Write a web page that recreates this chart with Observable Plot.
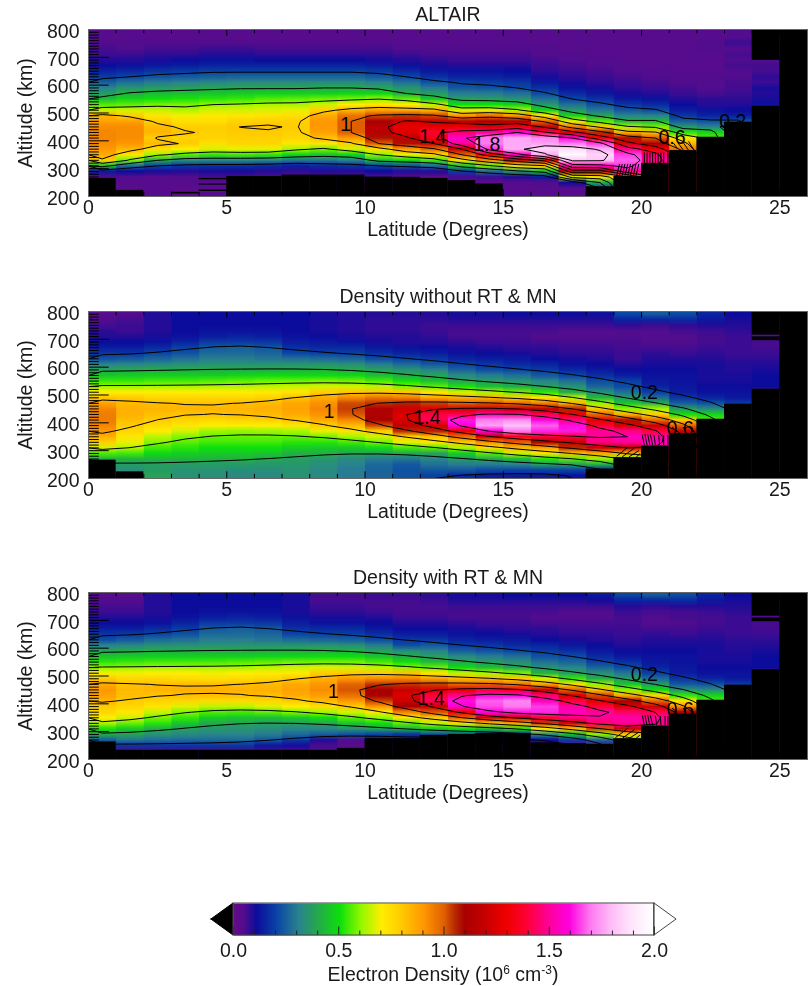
<!DOCTYPE html>
<html><head><meta charset="utf-8">
<script src="https://cdn.jsdelivr.net/npm/d3@7"></script>
<script src="https://cdn.jsdelivr.net/npm/@observablehq/plot@0.6"></script>
<style>
html,body{margin:0;padding:0;background:#fff}
#root{position:relative;width:808px;height:986px;overflow:hidden;font-family:"Liberation Sans",Arial,sans-serif;color:#1a1a1a;filter:blur(0.35px)}
#root>div{position:absolute;left:0}
#root svg{display:block;background:transparent;font-family:"Liberation Sans",Arial,sans-serif}
#cbLabel{top:963px;width:808px;left:0;text-align:center;font-size:19.5px;line-height:22px}
#cbLabel span{position:relative;left:39px}
#cbLabel sup{font-size:12px;line-height:0}
</style></head><body><div id="root"></div>
<script>
// electron density, units of 10^4 cm^-3: one list per latitude bin (0-1, 1-2 ... 25-26),
// each list holds altitudes 210, 230 ... 790 km
const altitudes = [210,230,250,270,290,310,330,350,370,390,410,430,450,470,490,510,530,550,570,590,610,630,650,670,690,710,730,750,770,790];
const altair = [
[3,3,3,4,12,45,78,86,90,92,93,93,92,88,84,65,55,43,36,30,24,18,14,10,8,6,5,4,3,3],
[2,2,3,4,10,26,58,72,84,90,92,92,92,88,78,66,56,48,41,34,27,20,15,11,8,6,4,4,3,3],
[3,3,3,3,9,20,40,62,74,83,79,84,83,78,72,65,58,50,43,36,29,22,17,12,9,7,5,4,3,3],
[2,2,3,4,8,17,33,56,70,79,77,81,78,74,69,63,58,51,44,37,30,23,18,13,10,7,5,4,3,3],
[3,3,3,5,9,16,32,53,67,74,77,78,78,74,71,66,60,52,45,38,31,24,19,14,11,8,6,4,3,3],
[3,3,3,5,9,16,32,54,68,76,78,79,80.1,77,72,66,61,53,46,39,32,25,19,14,11,8,6,4,3,3],
[3,3,3,4,8,15,31,53,68,76,78,79,81,78,73,67,62,55,47,39,32,25,19,14,10,7,5,4,3,3],
[3,3,3,4,7,13,28,48,62,72,76,78,79,78,74,68,62,56,47,39,32,25,19,14,10,7,5,4,3,3],
[3,3,3,4,8,15,28,45,58,72,82,88,90,90,86,77,65,57,47,40,32,25,19,14,10,7,5,4,3,3],
[3,3,3,4,8,16,30,48,66,78,90,100,100,100,96,84,70,58,48,40,32,25,19,14,10,7,5,4,3,3],
[3,3,3,4,10,20,44,60,74,100,108,115,116,110,102,88,72,60,48,38,30,23,18,13,9,7,5,4,3,3],
[3,3,3,3,8,22,48,68,90,108,118,126,128,122,104,86,70,56,40,34,27,20,15,11,8,6,4,3,3,3],
[3,3,3,2,8,26,54,76,98,120,134,138,128,118,102,84,64,45,36,29,22,16,12,9,7,5,4,3,3,3],
[3,3,2,5,18,45,74,100,120,150,158,145,128,115,90,67,50,37,29,23,19,14,11,8,6,5,4,3,3,3],
[3,3,2,6,26,58,92,128,165,170,170,150,125,112,96,68,50,36,29,22,18,14,11,8,6,5,4,3,3,3],
[3,3,3,8,36,72,108,155,178,177,177,160,132,112,90,62,47,33,27,20,17,13,10,8,6,5,4,3,3,3],
[3,3,4,12,45,78,125,178,186,176,172,142,118,98,72,48,35,27,21,16,12,9,7,6,5,4,4,3,3,3],
[3,3,10,66,110,152,183,198,188,170,160,125,95,68,48,35,27,20,15,11,9,7,6,5,4,4,3,3,3,3],
[10,20,40,70,110,155,182,186,178,165,130,105,78,55,38,28,22,16,12,9,7,6,5,4,4,3,3,3,3,3],
[100,100,100,100,150,165,168,165,148,125,108,85,62,42,30,23,17,12,9,7,6,5,4,4,3,3,3,3,3,3],
[140,140,140,140,140,140,150,145,130,110,100,82,58,42,30,21,15,11,8,6,5,4,4,3,3,3,3,3,3,3],
[110,110,110,110,110,110,110,110,95,85,72,52,35,24,17,13,10,8,6,5,4,4,3,3,3,3,3,3,3,3],
[55,55,55,55,55,55,55,55,55,55,55,48,30,22,14,11,8,7,5,4,4,4,3,3,3,3,4,4,3,3],
[0,0,0,0,0,0,0,0,0,0,0,0,0,22,13,10,8,7,6,5,5,4,4,5,4,5,3,6,4,4],
[0,0,0,0,0,0,0,0,0,0,0,0,0,0,0,0,11,9,8,9,6,7,5,5,4,3,3,3,3,3],
[0,0,0,0,0,0,0,0,0,0,0,0,0,0,0,0,0,0,0,0,0,0,0,0,0,0,0,0,0,0]];
const withoutRT = [
[30,32,36,42,55,66,78,85,90,93,95,95,93,88,80,70,61,53,45,38,30,22,17,13,10,8,7,5,4,3],
[32,33,36,42,54,63,68,72,76,79,82,85,85,83,79,70,61,53,46,39,31,23,17,13,10,8,6,6,5,4],
[38,36,37,42,49,54,59,64,70,75,79,82,84,82,76,70,62,54,47,40,32,25,20,15,11,9,8,8,8,8],
[34,34,36,42,47,52,56,59,66,72,77,81,84,81,76,70,62,54,47,40,33,27,22,19,14,11,10,10,10,10],
[33,34,36,41,46,50,54,57,61,70,76,81,84,81,76,70,63,55,47,40,34,29,26,23,18,13,11,10,10,10],
[32,33,36,41,46,50,54,57,60,70,77,82,84,82,76,70,63,56,48,40,34,29,26,24,18,14,11,10,10,10],
[32,33,35,39,45,50,54,57,61,70,78,83,85,83,77,71,64,57,49,40,34,28,25,23,17,13,11,10,10,10],
[34,34,35,37,41,47,52,57,62,72,81,86,88,87,81,72,65,57,49,41,34,27,20,16,13,11,10,10,10,10],
[32,32,33,35,41,46,52,58,68,79,86,91,93,91,86,78,66,58,49,41,34,26,19,15,12,10,9,9,9,9],
[29,29,30,32,39,46,54,62,73,83,93,101,103,102,92,80,66,57,48,40,33,25,19,15,11,9,8,8,8,8],
[25,25,26,29,38,49,58,66,79,102,110,113,112,104,96,80,64,54,44,37,29,21,16,12,9,8,7,7,7,8],
[22,22,23,28,39,54,68,78,105,118,124,125,121,106,94,80,59,50,40,34,26,19,14,11,8,8,7,7,7,8],
[19,23,27,31,38,56,71,82,106,123,143,141,125,103,86,72,56,44,38,31,23,17,13,10,8,7,6,6,7,8],
[15,23,29,36,47,62,80,98,130,160,162,142,123,100,85,66,51,38,32,25,19,14,11,9,7,5,5,6,8,9],
[13,21,29,39,56,75,92,120,160,176,170,155,124,101,83,62,44,36,29,21,17,13,10,8,6,5,5,6,8,9],
[13,20,30,43,65,84,100,135,170,182,172,150,120,98,78,57,40,34,27,20,15,12,9,7,6,5,5,6,8,10],
[12,20,36,52,72,88,110,140,163,168,160,142,116,94,72,52,37,31,23,18,14,10,8,7,5,4,5,6,8,10],
[11,20,37,56,82,105,120,140,162,161,148,130,106,84,64,40,34,27,20,15,11,9,7,6,5,4,4,6,8,10],
[10,15,40,60,87,120,147,150,150,138,126,98,80,60,42,33,25,21,16,12,10,8,7,6,5,4,4,6,8,11],
[40,40,40,60,85,118,150,155,148,124,108,84,60,45,36,27,21,19,13,10,8,6,6,5,5,4,4,7,14,20],
[100,100,100,120,140,150,155,152,140,120,97,78,62,40,26,19,14,12,11,10,9,8,7,5,4,4,4,6,14,23],
[120,120,120,120,120,120,120,125,120,100,78,50,36,24,17,13,12,11,11,10,9,8,6,5,4,4,5,7,15,21],
[55,55,55,55,55,55,55,55,55,55,55,48,32,22,14,11,10,9,9,9,9,8,7,6,5,5,6,8,12,14],
[0,0,0,0,0,0,0,0,0,0,0,0,0,18,12,11,10,9,9,8,8,7,6,6,6,6,7,8,9,10],
[0,0,0,0,0,0,0,0,0,0,0,0,0,0,0,0,10,10,10,9,8,7,6,5,5,4,4,4,4,4],
[0,0,0,0,0,0,0,0,0,0,0,0,0,0,0,0,0,0,0,0,0,0,0,0,0,0,0,0,0,0]];
const withRT = [
[8,10,14,24,40,51,63,70,76,79,84,88,90,86,79,69,60,52,45,38,30,21,17,13,10,8,6,5,4,3],
[5,5,17,28,38,46,57,66,72,76,79,82,83,81,76,69,61,53,46,39,31,23,18,13,10,8,6,5,4,3],
[5,5,17,27,34,41,52,58,65,72,77,81,84,82,76,70,62,54,47,40,33,26,20,15,11,9,8,8,8,8],
[5,5,17,26,32,37,45,53,59,67,76,82,85,82,75,70,62,54,47,40,33,27,22,18,14,11,10,10,10,10],
[5,5,17,26,31,35,39,47,55,64,75,82,85,82,74,69,62,54,47,40,34,29,26,23,18,13,11,10,10,10],
[5,5,17,26,31,34,38,45,54,64,75,82,85,82,75,70,62,55,47,40,34,29,26,24,18,14,11,10,10,10],
[4,5,12,23,29,33,37,44,56,67,76,82,85,83,76,71,64,56,48,40,34,28,25,23,17,13,11,10,10,10],
[4,5,9,18,26,31,37,46,59,70,79,86,88,86,80,71,65,57,48,41,34,26,20,16,13,11,9,9,9,9],
[4,4,5,8,24,31,39,50,62,74,83,89,92,90,85,79,67,57,49,41,34,25,19,15,11,9,7,6,5,5],
[3,3,3,4,22,34,45,56,66,79,90,97,101,99,90,80,66,57,49,41,33,24,19,15,11,9,7,6,5,5],
[3,4,6,10,20,37,50,60,72,90,103,110,110,104,92,79,64,54,45,37,29,21,16,12,10,8,6,5,5,6],
[3,3,5,9,17,42,56,72,94,110,121,125,120,104,93,81,60,50,40,33,21,17,13,10,8,6,5,5,5,6],
[3,3,4,8,22,46,64,80,101,121,143,140,124,103,88,72,57,43,37,30,23,17,13,10,8,6,5,5,6,7],
[3,3,4,8,22,50,74,100,130,158,161,148,128,99,83,64,50,38,32,24,18,14,11,9,7,5,5,6,8,9],
[3,3,4,8,16,44,82,122,160,166,168,160,138,100,82,62,44,36,29,22,17,13,10,8,6,5,5,6,8,9],
[3,3,4,7,14,52,88,122,162,170,172,160,135,96,80,58,38,33,27,20,15,12,9,7,6,5,5,6,8,10],
[3,3,4,10,33,70,104,140,163,165,155,145,118,88,66,42,34,27,22,18,14,10,8,7,5,4,5,6,8,10],
[3,3,4,18,44,82,122,148,155,152,140,124,100,74,53,37,31,25,21,16,12,9,7,6,5,4,4,6,8,10],
[3,3,6,26,60,102,145,150,152,140,126,102,82,60,40,33,25,19,15,12,10,8,7,6,5,4,4,6,9,12],
[60,60,60,60,80,120,150,152,145,125,110,85,60,45,36,28,21,16,12,10,8,7,6,6,5,5,6,8,14,20],
[110,110,110,110,110,140,150,150,142,122,98,76,50,36,26,19,14,12,11,10,9,8,7,5,4,4,5,7,14,23],
[115,115,115,115,115,115,115,118,110,92,72,52,34,23,17,13,12,11,11,10,9,8,6,5,4,5,5,8,15,21],
[55,55,55,55,55,55,55,55,55,55,55,48,32,22,14,11,10,9,9,9,9,8,7,6,5,5,6,8,12,14],
[0,0,0,0,0,0,0,0,0,0,0,0,0,18,12,11,10,9,9,8,8,7,6,6,6,6,7,8,9,10],
[0,0,0,0,0,0,0,0,0,0,0,0,0,0,0,0,10,10,10,9,8,7,6,5,5,4,4,4,4,4],
[0,0,0,0,0,0,0,0,0,0,0,0,0,0,0,0,0,0,0,0,0,0,0,0,0,0,0,0,0,0]];

// lowest and highest altitude with data, per latitude bin
const altairLow  = [265,222,200,200,200,272,272,277,277,277,270,269,265,257,245,200,200,200,235,272,319,365,413,467,524,800];
const altairHigh = [800,800,800,800,800,800,800,800,800,800,800,800,800,800,800,800,800,800,800,800,800,800,800,800,689,800];
const withoutLow  = [266,224,200,200,200,200,200,200,200,200,200,200,200,200,200,200,200,200,234,275,317,362,413,467,521,800];
const withoutHigh = [800,800,800,800,800,800,800,800,800,800,800,800,800,800,800,800,800,800,800,800,800,800,800,800,715,800];
const withLow  = [263,233,233,233,233,233,233,233,233,240,275,275,287,290,293,293,260,257,254,275,320,363,413,467,523,800];
const withHigh = [800,800,800,800,800,800,800,800,800,800,800,800,800,800,800,800,800,800,800,800,800,800,800,800,715,800];
// small gaps without data inside a bin: [latitude bin, low, high]
const altairGaps  = [[4,260,265],[4,241,245],[4,218,223],[3,209,215]];
const withoutGaps = [[24,695,709]];
const withGaps    = [[24,695,709]];
// tight contour bundles at the edge of the data: [lat, alt, lat, alt]
const altairBundles = [[20.1,319,20.1,358],[20.2,319,20.2,358],[20.3,319,20.3,358],[20.4,319,20.4,358],[20.5,319,20.5,358],[20.6,319,20.6,358],[20.7,319,20.7,358],[20.8,319,20.8,358],[20.95,319,20.95,358],
 [19.1,275,19.2,317],[19.2,275,19.3,317],[19.3,275,19.4,317],[19.4,275,19.5,317],[19.5,275,19.6,317],[19.6,275,19.7,317],[19.7,275,19.8,317],[19.8,275,19.9,317],
 [21.3,372,21.15,392],[21.5,368,21.3,395],[21.7,366,21.5,395],[21.9,366,21.7,398]];
const withoutBundles = [[20.1,320,20.02,358],[20.2,320,20.12,360],[20.3,320,20.22,360],[20.4,320,20.32,358],[20.5,320,20.45,356],[20.65,320,20.62,356],[20.8,320,20.8,356],[20.95,320,20.95,356],
 [19.1,280,19.5,312],[19.3,278,19.75,310],[19.55,278,19.9,300],[19.8,276,19.95,290],
 [21.3,368,21.1,385],[21.6,368,21.5,385],[21.9,366,21.8,385]];
const withBundles = [[20.1,322,20.03,358],[20.2,322,20.12,360],[20.3,322,20.22,360],[20.4,322,20.32,358],[20.55,322,20.5,356],[20.7,322,20.68,356],[20.85,322,20.85,356],[20.95,322,20.95,356],
 [19.05,278,19.5,312],[19.3,276,19.75,308],[19.55,276,19.9,298],[19.8,276,19.95,288],
 [21.3,368,21.1,385],[21.6,368,21.5,385],[21.9,366,21.8,385]];
// contour labels: [text, lat, alt]
const altairLabels = [["1",9.3,458],["1.4",12.45,413],["1.8",14.4,385],["0.6",21.1,410],["0.2",23.3,470]];
const withoutLabels = [["1",8.7,441],["1.4",12.25,417],["0.2",20.1,507],["0.6",21.4,377]];
const withLabels = [["1",8.86,443],["1.4",12.4,419],["0.2",20.1,503],["0.6",21.4,380]];

const contourLevels = [20,40,60,80,100,120,140,160,180];
const latTicksMajor = [0,5,10,15,20,25];
const latTicksMinor = [1,2,3,4,6,7,8,9,11,12,13,14,16,17,18,19,21,22,23,24];
const altTicksMajor = [200,300,400,500,600,700,800];
const altTicksMinor = d3.range(200,800,10).filter(a=>a%100);

const colorStops = [0,4,10,20,30,40,50,60,70,80,90,100,105,110,120,130,140,150,160,170,180,190,200];
const colorRamp = ["#620c88","#520c8e","#0c0c9c","#0a46a6","#2a8290","#24ac48","#0ce00c","#92f800","#ffee00","#ffc800","#ff9800","#e06000","#b82a00","#a80000","#c80000","#f00000","#ff0038","#ff0098","#ff00e0","#ff78f0","#ffbcf8","#ffe6fc","#ffffff"];
const colorScale = {type:"linear",domain:colorStops,range:colorRamp,clamp:true};

const FS = 19.5, INK = "#1a1a1a";
const lats = d3.range(26);
function panel(title, cols, low, high, gaps, bundles, labels, blur){
  const grid = [];
  for (let r=0;r<altitudes.length;r++) for (let c=0;c<cols.length;c++) grid.push(cols[c][r]);
  return Plot.plot({
    width:808,height:244,marginLeft:88,marginRight:1,marginTop:29,marginBottom:48,
    style:{background:"transparent",overflow:"visible"},
    x:{domain:[0,26],axis:null},y:{domain:[200,800],axis:null},color:colorScale,
    marks:[
      Plot.rect([0],{x1:0,x2:26,y1:200,y2:800,fill:"black"}),
      ...lats.slice(0,25).map(c=>Plot.raster(cols[c],{width:1,height:30,x1:c,x2:c+1.04,y1:200,y2:800,fill:d=>d})),
      Plot.contour(grid,{width:26,height:30,x1:0,x2:26,y1:200,y2:800,value:d=>d,thresholds:contourLevels,blur,fill:"none",stroke:"#000",strokeWidth:1}),
      Plot.link(bundles,{x1:d=>d[0],y1:d=>d[1],x2:d=>d[2],y2:d=>d[3],stroke:"#000",strokeWidth:1}),
      Plot.rect(lats,{x1:d=>d,x2:d=>d+1,y1:200,y2:d=>low[d],fill:"black"}),
      Plot.rect(lats,{x1:d=>d,x2:d=>d+1,y1:d=>high[d],y2:800,fill:"black"}),
      Plot.rect(gaps,{x1:d=>d[0],x2:d=>d[0]+1,y1:d=>d[1],y2:d=>d[2],fill:"black"}),
      Plot.ruleY(altTicksMinor,{x1:0,x2:0.39,stroke:"#000",strokeWidth:1}),
      Plot.ruleY(altTicksMajor,{x1:0,x2:0.75,stroke:"#000",strokeWidth:1}),
      Plot.ruleX(latTicksMinor,{y1:800,y2:785,stroke:"#000"}),
      Plot.ruleX(latTicksMinor,{y1:200,y2:215,stroke:"#000"}),
      Plot.ruleX(latTicksMajor,{y1:800,y2:776,stroke:"#000"}),
      Plot.ruleX(latTicksMajor,{y1:200,y2:224,stroke:"#000"}),
      Plot.text(labels,{text:d=>d[0],x:d=>d[1],y:d=>d[2],fontSize:FS,fill:"#000"}),
      Plot.frame({stroke:"#666"}),
      Plot.text([title],{frameAnchor:"top",dy:-15,lineAnchor:"middle",fontSize:FS,fill:INK}),
      Plot.axisX({ticks:latTicksMajor,tickSize:0,tickPadding:4,fontSize:FS,color:INK,label:"Latitude (Degrees)",labelAnchor:"center",labelArrow:"none",labelOffset:39}),
      Plot.axisY({ticks:altTicksMajor,tickSize:0,tickPadding:9,dy:2,fontSize:FS,color:INK,label:"Altitude (km)",labelAnchor:"center",labelArrow:"none",labelOffset:70})
    ]
  });
}
const root = document.getElementById("root");
function place(node, top){const d=document.createElement("div");d.style.top=top+"px";d.appendChild(node);root.appendChild(d);}
place(panel("ALTAIR",altair,altairLow,altairHigh,altairGaps,altairBundles,altairLabels,0),0);
place(panel("Density without RT & MN",withoutRT,withoutLow,withoutHigh,withoutGaps,withoutBundles,withoutLabels,0.5),282);
place(panel("Density with RT & MN",withRT,withLow,withHigh,withGaps,withBundles,withLabels,0.5),563);

// colour bar
const barValues = d3.range(0,201,2);
const barMinor = d3.range(10,200,10).filter(v=>v%50);
const barMajor = [0,50,100,150,200];
const arrowLow = [{v:-10.5,lo:0.5,hi:0.5},{v:0,lo:0,hi:1}];
const arrowHigh = [{v:200,lo:0,hi:1},{v:210.5,lo:0.5,hi:0.5}];
const bar = Plot.plot({
  width:808,height:72,marginTop:10,marginBottom:30,marginLeft:0,marginRight:0,
  style:{background:"transparent",overflow:"visible"},
  x:{domain:[0,200],range:[233,654],axis:null},y:{domain:[0,1],axis:null},color:colorScale,
  marks:[
    Plot.raster(barValues,{width:barValues.length,height:1,x1:0,x2:200,y1:0,y2:1,fill:d=>d}),
    Plot.area(arrowLow,{x1:"v",y1:"lo",y2:"hi",fill:"black",stroke:"black"}),
    Plot.area(arrowHigh,{x1:"v",y1:"lo",y2:"hi",fill:"white",stroke:"#444"}),
    Plot.ruleX(barMinor,{y1:0,y2:0.14,stroke:"#222"}),
    Plot.ruleX(barMajor,{y1:0,y2:0.27,stroke:"#222"}),
    Plot.rect([0],{x1:0,x2:200,y1:0,y2:1,fill:"none",stroke:"#444"}),
    Plot.axisX({ticks:barMajor,tickSize:0,tickPadding:8,fontSize:FS,color:INK,tickFormat:d=>(d/100).toFixed(1),label:null})
  ]
});
place(bar,893);
const cap=document.createElement("div");cap.id="cbLabel";
cap.innerHTML='<span>Electron Density (10<sup>6</sup> cm<sup>-3</sup>)</span>';
root.appendChild(cap);
</script></body></html>
